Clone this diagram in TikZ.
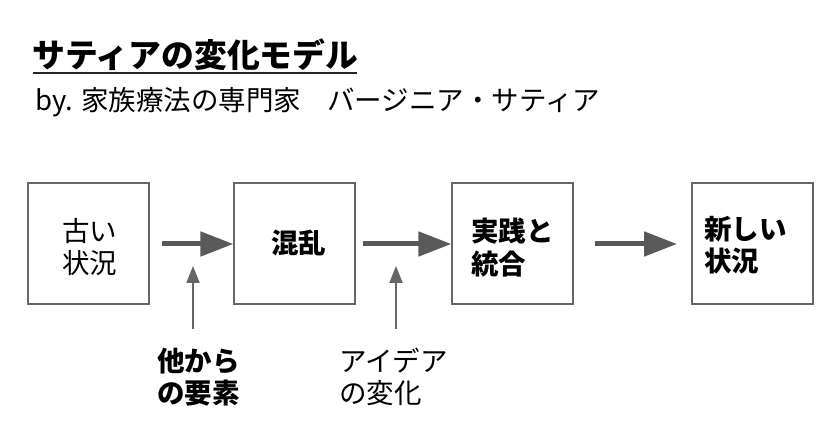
\documentclass[tikz,border=0pt]{standalone}
\usepackage{fontspec}
\setmainfont{Noto Sans CJK JP}
\usetikzlibrary{arrows.meta}
\definecolor{boxline}{HTML}{666666}
\definecolor{bigarrow}{HTML}{595959}
\tikzset{
  box/.style={draw=boxline, line width=1.3pt, minimum width=121pt, minimum height=121pt, inner sep=0pt},
  txt/.style={font=\fontsize{27.5}{32.5}\selectfont, align=left, inner sep=0pt, text=black},
  btxt/.style={txt, font=\fontsize{27.5}{32.5}\selectfont\bfseries},
  bigarr/.style={draw=bigarrow, line width=5pt, -{Triangle[length=33pt,width=24pt]}, shorten >=0pt},
  smallarr/.style={draw=boxline, line width=1.8pt, -{Triangle[length=17pt,width=13pt]}}
}
\begin{document}
\begin{tikzpicture}[x=1pt,y=1pt]
\useasboundingbox[fill=white] (0,0) rectangle (840,446);
% title
\node[anchor=west, inner sep=0pt, font=\fontsize{32.8}{38}\selectfont\bfseries] (title) at (32,391) {サティアの変化モデル};
\draw[line width=2.6pt, black!85] (33,373) -- (357,373);
\node[anchor=west, inner sep=0pt, font=\fontsize{27.5}{32}\selectfont] (sub) at (35,344) {by. 家族療法の専門家\hspace{26pt}バージニア・サティア};
% boxes
\node[box] (b1) at (88.5,202.5) {};
\node[box] (b2) at (294.5,202.5) {};
\node[box] (b3) at (512.5,202.5) {};
\node[box] (b4) at (752.5,202.5) {};
% box texts
\node[txt, anchor=west] (t1) at (62,199) {古い\\状況};
\node[btxt, anchor=west] (t2) at (271,203) {混乱};
\node[btxt, anchor=west] (t3) at (471,198.5) {実践と\\統合};
\node[btxt, anchor=west] (t4) at (704,201) {新しい\\状況};
% big arrows
\coordinate (a1s) at (162,202);
\coordinate (a2s) at (363,202);
\coordinate (a3s) at (595,202);
\draw[bigarr] (a1s) -- (b2.west |- a1s);
\draw[bigarr] (a2s) -- (b3.west |- a2s);
\draw[bigarr] (a3s) -- (677,202) coordinate (a3e);
% small arrows
\coordinate (s1) at (193,117);
\coordinate (e1) at (193,180);
\coordinate (s2) at (396,117);
\coordinate (e2) at (396,180);
\draw[smallarr] (s1) -- (e1);
\draw[smallarr] (s2) -- (e2);
% labels
\node[btxt, anchor=west] (l1) at (157,69) {他から\\の要素};
\node[txt, anchor=west] (l2) at (339,69) {アイデア\\の変化};
\end{tikzpicture}
\end{document}
